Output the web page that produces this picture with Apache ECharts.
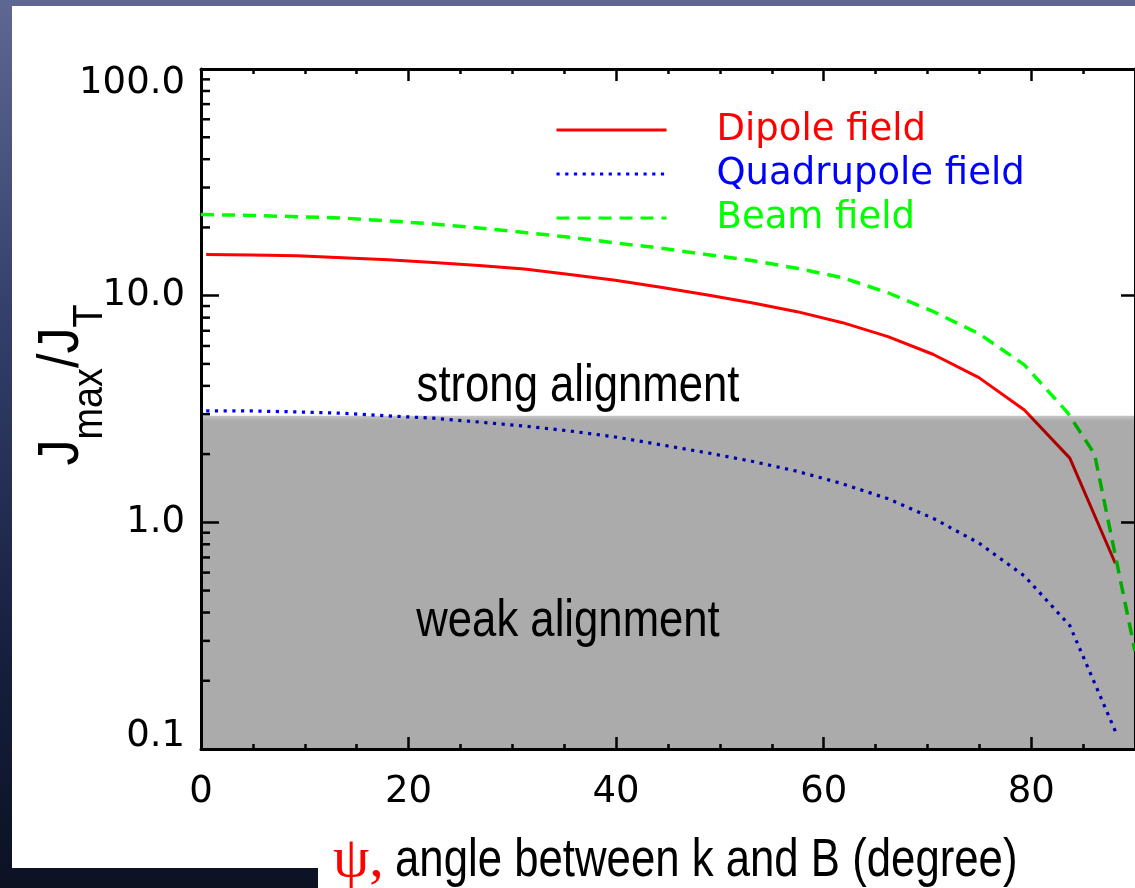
<!DOCTYPE html>
<html>
<head>
<meta charset="utf-8">
<script src="https://cdn.jsdelivr.net/npm/echarts@6/dist/echarts.min.js"></script>
<style type="text/css">
    html, body {
        margin: 0;
        padding: 0;
        width: 1135px;
        height: 888px;
        overflow: hidden;
        background: linear-gradient(to bottom, #5e6892 0%, #34406c 35%, #161e3c 75%, #0c1222 100%);
    }
    .panel {
        position: absolute;
        background: #ffffff;
    }
    #chart {
        position: absolute;
        left: 0;
        top: 0;
        width: 1135px;
        height: 888px;
    }
</style>
</head>
<body>
<div class="panel" style="left:12px;top:6px;width:1123px;height:862px;"></div>
<div class="panel" style="left:318px;top:868px;width:817px;height:20px;"></div>
<div id="chart"></div>

<script>
    // angle psi (degree) for dipole / quadrupole curves
    var angle = [0.5, 4.88, 9.26, 13.64, 18.02, 22.4, 26.78, 31.16, 35.54, 39.92, 44.3,
                 48.68, 53.06, 57.44, 61.82, 66.2, 70.58, 74.96, 79.34, 83.72, 88.1];
    var dipole = [15.2, 15.1, 15.0, 14.7, 14.4, 14.0, 13.6, 13.1, 12.4, 11.7, 10.9,
                  10.1, 9.3, 8.5, 7.6, 6.6, 5.5, 4.35, 3.13, 1.92, 0.66];
    var quadrupole = [3.1, 3.1, 3.07, 3.03, 2.95, 2.88, 2.77, 2.66, 2.53, 2.38, 2.2,
                      2.03, 1.86, 1.68, 1.48, 1.27, 1.04, 0.81, 0.58, 0.35, 0.12];
    // beam field has its own angle grid near 90
    var beamAngle = [0, 4.88, 9.26, 13.64, 18.02, 22.4, 26.78, 31.16, 35.54, 39.92, 44.3,
                     48.68, 53.06, 57.44, 61.82, 66.2, 70.58, 74.96, 79.34, 83.5, 86.1, 90];
    var beam = [22.8, 22.6, 22.3, 22.0, 21.4, 20.7, 19.9, 19.0, 18.1, 17.1, 16.2,
                15.2, 14.3, 13.2, 12.0, 10.3, 8.5, 6.8, 4.95, 3.05, 2.0, 0.27];

    var seriesNames = ['Dipole field', 'Quadrupole field', 'Beam field'];
    var seriesColors = ['#ff0000', '#0000ff', '#00ff00'];

    // weak alignment region
    var bandTop = 2.95;
    var bandBottom = 0.1;

    var xMin = 0, xMax = 90;
    var yMin = 0.1, yMax = 100;
    var yMinorTicks = [0.2, 0.3, 0.4, 0.5, 0.6, 0.7, 0.8, 0.9,
                       2, 3, 4, 5, 6, 7, 8, 9,
                       20, 30, 40, 50, 60, 70, 80, 90];

    function pairs(xs, ys) {
        var out = [];
        for (var i = 0; i < xs.length; i++) {
            out.push([xs[i], ys[i]]);
        }
        return out;
    }

    var labelFont = 'DejaVu Sans';
    var sansFont = '"Liberation Sans", Arial, sans-serif';

    var xAxisBase = {
        type: 'value',
        min: xMin,
        max: xMax,
        interval: 20,
        axisLine: {show: true, onZero: false, lineStyle: {color: '#000', width: 3}},
        axisTick: {show: true, inside: true, length: 12, lineStyle: {color: '#000', width: 2.5}},
        minorTick: {show: true, splitNumber: 4, length: 5, lineStyle: {color: '#000', width: 2.5}},
        splitLine: {show: false}
    };

    var yAxisBase = {
        type: 'log',
        logBase: 10,
        min: yMin,
        max: yMax,
        axisLine: {show: true, onZero: false, lineStyle: {color: '#000', width: 3}},
        splitLine: {show: false},
        minorTick: {show: false}
    };

    var myChart = echarts.init(document.getElementById('chart'));

    var option = {
        animation: false,
        backgroundColor: 'transparent',
        grid: {left: 201, top: 69, width: 940, height: 680, containLabel: false},
        legend: {
            orient: 'vertical',
            left: 555,
            top: 108,
            padding: 0,
            itemWidth: 110,
            itemHeight: 14,
            itemGap: 0,
            lineStyle: {width: 3},
            itemStyle: {opacity: 0, borderWidth: 0},
            textStyle: {fontFamily: labelFont, fontSize: 37, lineHeight: 44, padding: [0, 0, 0, 45]},
            data: [
                {name: seriesNames[0], textStyle: {color: seriesColors[0]}},
                {name: seriesNames[1], textStyle: {color: seriesColors[1]}},
                {name: seriesNames[2], textStyle: {color: seriesColors[2]}}
            ]
        },
        xAxis: [
            echarts.util.merge({
                position: 'bottom',
                axisLabel: {
                    show: true, color: '#000', fontFamily: labelFont, fontSize: 37, margin: 25,
                    showMaxLabel: false,
                    formatter: function (v) { return v >= 90 ? '' : String(v); }
                }
            }, xAxisBase, true),
            echarts.util.merge({
                position: 'top',
                axisLabel: {show: false}
            }, xAxisBase, true)
        ],
        yAxis: [
            echarts.util.merge({
                position: 'left',
                axisTick: {show: true, inside: true, length: 18, lineStyle: {color: '#000', width: 2.5}},
                axisLabel: {
                    show: true, color: '#000', fontFamily: labelFont, fontSize: 37, margin: 16,
                    formatter: function (v) {
                        if (Math.abs(v - 100) < 1e-6) { return '{top|100.0}'; }
                        if (Math.abs(v - 0.1) < 1e-6) { return '{bot|0.1}'; }
                        return (Math.round(v * 10) / 10).toFixed(1);
                    },
                    rich: {
                        top: {fontFamily: labelFont, fontSize: 37, color: '#000', padding: [28, 0, 0, 0]},
                        bot: {fontFamily: labelFont, fontSize: 37, color: '#000', padding: [0, 0, 26, 0]}
                    }
                }
            }, yAxisBase, true),
            echarts.util.merge({
                position: 'right',
                axisTick: {show: true, inside: true, length: 14, lineStyle: {color: '#000', width: 2.5}},
                axisLabel: {show: false}
            }, yAxisBase, true)
        ],
        series: [
            {
                name: seriesNames[0],
                type: 'line',
                data: pairs(angle, dipole),
                symbol: 'none',
                z: 2,
                lineStyle: {color: seriesColors[0], width: 3, type: 'solid'},
                itemStyle: {color: seriesColors[0]}
            },
            {
                name: seriesNames[1],
                type: 'line',
                data: pairs(angle, quadrupole),
                symbol: 'none',
                z: 2,
                lineStyle: {color: seriesColors[1], width: 3.2, type: [3.2, 5.5], cap: 'butt'},
                itemStyle: {color: seriesColors[1]}
            },
            {
                name: seriesNames[2],
                type: 'line',
                data: pairs(beamAngle, beam),
                symbol: 'none',
                z: 2,
                lineStyle: {color: seriesColors[2], width: 3.5, type: [13, 8]},
                itemStyle: {color: seriesColors[2]}
            },
            {
                // grey overlay of the weak alignment region
                type: 'custom',
                z: 5,
                silent: true,
                data: [[xMin, bandTop]],
                renderItem: function (params, api) {
                    var tl = api.coord([xMin, bandTop]);
                    var br = api.coord([xMax, bandBottom]);
                    return {
                        type: 'rect',
                        shape: {x: tl[0], y: tl[1], width: br[0] - tl[0], height: br[1] - tl[1]},
                        style: {
                            fill: new echarts.graphic.LinearGradient(0, 0, 0, 1, [
                                {offset: 0, color: 'rgba(0,0,0,0.22)'},
                                {offset: 0.015, color: 'rgba(0,0,0,0.33)'},
                                {offset: 1, color: 'rgba(0,0,0,0.33)'}
                            ])
                        }
                    };
                }
            },
            {
                // minor ticks of the log axis
                type: 'custom',
                z: 6,
                silent: true,
                data: yMinorTicks.map(function (v) { return [xMin, v]; }),
                renderItem: function (params, api) {
                    var p = api.coord([xMin, api.value(1)]);
                    return {
                        type: 'line',
                        shape: {x1: p[0], y1: p[1], x2: p[0] + 9, y2: p[1]},
                        style: {stroke: '#000', lineWidth: 2.5}
                    };
                }
            }
        ],
        graphic: [
            {
                type: 'text', z: 100,
                x: 578, y: 387, scaleX: 0.84,
                style: {text: 'strong alignment', align: 'center', verticalAlign: 'middle',
                        font: '52px ' + sansFont, fill: '#000'}
            },
            {
                type: 'text', z: 100,
                x: 568, y: 622, scaleX: 0.84,
                style: {text: 'weak alignment', align: 'center', verticalAlign: 'middle',
                        font: '52px ' + sansFont, fill: '#000'}
            },
            {
                type: 'text', z: 100,
                x: 333, y: 861,
                style: {text: 'ψ,', align: 'left', verticalAlign: 'middle',
                        font: '58px "Liberation Serif", serif', fill: '#ff0000'}
            },
            {
                type: 'text', z: 100,
                x: 395, y: 861, scaleX: 0.81,
                style: {text: 'angle between k and B (degree)', align: 'left', verticalAlign: 'middle',
                        font: '54px ' + sansFont, fill: '#000'}
            },
            {
                type: 'text', z: 100,
                x: 72, y: 385,
                rotation: Math.PI / 2, scaleX: 0.9,
                style: {
                    text: '{j|J}{s|max}{j|/J}{s|T}',
                    align: 'center', verticalAlign: 'middle',
                    rich: {
                        j: {fontFamily: sansFont, fontSize: 58, fill: '#000', color: '#000',
                            verticalAlign: 'bottom', padding: [0, 0, 20, 0]},
                        s: {fontFamily: sansFont, fontSize: 42, fill: '#000', color: '#000',
                            verticalAlign: 'bottom'}
                    }
                }
            }
        ]
    };

    myChart.setOption(option);
</script>
</body>
</html>
